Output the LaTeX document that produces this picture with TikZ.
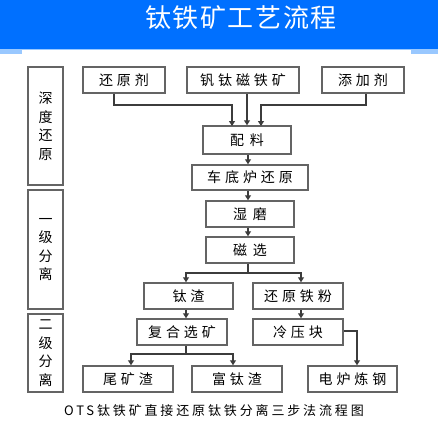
\documentclass[tikz,border=0pt]{standalone}
\usepackage{fontspec}
\setmainfont{Noto Sans CJK SC}
\newfontfamily\boxfont[LetterSpace=28]{Noto Sans CJK SC}
\newfontfamily\plainfont{Noto Sans CJK SC}
\newfontfamily\capfont[LetterSpace=22]{Noto Sans CJK SC}
\newfontfamily\titlefont[LetterSpace=6]{Noto Sans CJK SC}
\usetikzlibrary{arrows.meta}
\definecolor{titleblue}{RGB}{0,112,255}
\definecolor{lightblue}{RGB}{153,200,255}
\definecolor{boxline}{RGB}{100,100,100}
\definecolor{conn}{RGB}{60,60,60}
\begin{document}
\begin{tikzpicture}[x=1pt,y=-1pt,
  procbox/.style={draw=boxline,line width=1.5pt,fill=white,inner sep=0pt,
    minimum height=26pt,font=\fontsize{14pt}{16pt}\boxfont},
  phasebox/.style={draw=boxline,line width=1.5pt,fill=white,inner sep=0pt,
    minimum width=35pt,align=center,font=\fontsize{14pt}{18.5pt}\plainfont},
  conn/.style={draw=conn,line width=1.1pt},
  arr/.style={conn,-{Triangle[width=6pt,length=5pt]}}]
\useasboundingbox (0,0) rectangle (438,429);
\fill[white] (0,0) rectangle (438,429);
\fill[titleblue] (0,0) rectangle (438,49);
\fill[lightblue] (0,49) rectangle (438,54);
\fill[white] (22,50) rectangle (411,54);
\node[text=white,font=\fontsize{26pt}{30pt}\titlefont] (title) at (241,18) {钛铁矿工艺流程};
% phase boxes
\node[phasebox,minimum height=118pt] (p1) at (45.5,126) {深\\度\\还\\原};
\node[phasebox,minimum height=119pt] (p2) at (45.5,249.5) {一\\级\\分\\离};
\node[phasebox,minimum height=78pt] (p3) at (45.5,353) {二\\级\\分\\离};
% process boxes
\node[procbox,minimum width=82pt] (hyj) at (124,80) {还原剂};
\node[procbox,minimum width=112pt] (ftc) at (243,80) {钒钛磁铁矿};
\node[procbox,minimum width=82pt] (tjj) at (363,80) {添加剂};
\node[procbox,minimum width=88pt,minimum height=28pt] (pl) at (247,140) {配\hspace{6pt}料};
\node[procbox,minimum width=116pt,minimum height=25pt] (cdl) at (250,177.5) {车底炉还原};
\node[procbox,minimum width=88pt] (sm) at (250,214) {湿\hspace{6pt}磨};
\node[procbox,minimum width=88pt] (cx) at (250,250) {磁\hspace{6pt}选};
\node[procbox,minimum width=89pt] (tz) at (188.5,296) {钛渣};
\node[procbox,minimum width=90pt] (hytf) at (298,296) {还原铁粉};
\node[procbox,minimum width=90pt] (fhxk) at (182,332) {复合选矿};
\node[procbox,minimum width=90pt] (lyk) at (298,332) {冷压块};
\node[procbox,minimum width=90pt] (wkz) at (128,379) {尾矿渣};
\node[procbox,minimum width=90pt] (ftz) at (237,379) {富钛渣};
\node[procbox,minimum width=89pt] (dllg) at (352.5,379) {电炉炼钢};
\node[font=\fontsize{13pt}{15pt}\capfont] (cap) at (214,411) {OTS钛铁矿直接还原钛铁分离三步法流程图};
% connectors
\coordinate (j1) at (114,105);
\coordinate (j2) at (366,105);
\draw[arr] (hyj.south -| j1) -- (j1) -- (232,105) -- (232,126);
\draw[arr] (tjj.south -| j2) -- (j2) -- (261,105) -- (261,126);
\draw[arr] (ftc.south -| pl.north) -- (pl.north);
\draw[arr] (pl.south -| 248,0) -- (cdl.north -| 248,0);
\draw[arr] (cdl.south -| 248,0) -- (sm.north -| 248,0);
\draw[arr] (sm.south -| 248,0) -- (cx.north -| 248,0);
\coordinate (s1) at (248,273);
\draw[conn] (cx.south -| s1) -- (s1);
\draw[arr] (s1) -- (186,273) -- (tz.north -| 186,0);
\draw[arr] (s1) -- (301,273) -- (hytf.north -| 301,0);
\draw[arr] (tz.south -| 186,0) -- (fhxk.north -| 186,0);
\draw[arr] (hytf.south -| 301,0) -- (lyk.north -| 301,0);
\coordinate (s2) at (186,354);
\draw[conn] (fhxk.south -| s2) -- (s2);
\draw[arr] (s2) -- (131,354) -- (wkz.north -| 131,0);
\draw[arr] (s2) -- (233,354) -- (ftz.north -| 233,0);
\draw[arr] (lyk.east |- 0,331) -- (357,331) -- (dllg.north -| 357,0);
\end{tikzpicture}
\end{document}
